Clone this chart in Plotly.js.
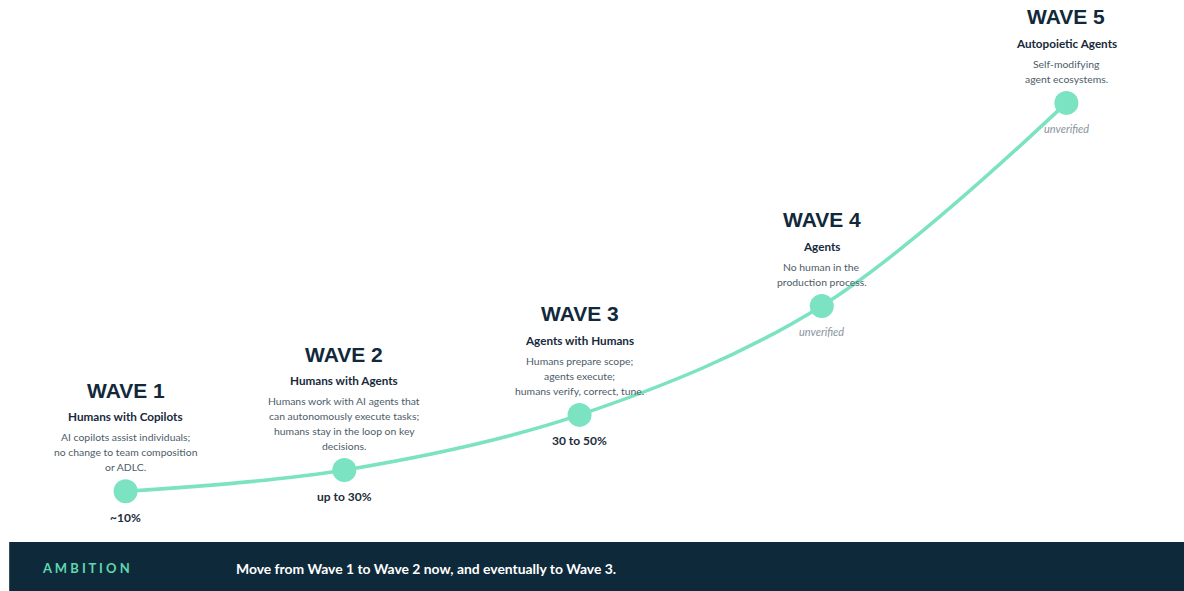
<!DOCTYPE html>
<html>
<head>
<meta charset="utf-8">
<script src="https://cdn.plot.ly/plotly-3.0.1.min.js"></script>
<style>
  html, body { margin: 0; padding: 0; background: #ffffff; }
  #chart { width: 1184px; height: 591px; }
</style>
</head>
<body>
<div id="chart"></div>
<script>
// ---- data ----
const waveNames = ['WAVE 1', 'WAVE 2', 'WAVE 3', 'WAVE 4', 'WAVE 5'];
const waveSubtitles = ['Humans with Copilots', 'Humans with Agents', 'Agents with Humans', 'Agents', 'Autopoietic Agents'];
const waveDescriptions = [
  ['AI copilots assist individuals;', 'no change to team composition', 'or ADLC.'],
  ['Humans work with AI agents that', 'can autonomously execute tasks;', 'humans stay in the loop on key', 'decisions.'],
  ['Humans prepare scope;', 'agents execute;', 'humans verify, correct, tune.'],
  ['No human in the', 'production process.'],
  ['Self-modifying', 'agent ecosystems.']
];
const waveValueLabels = ['~10%', 'up to 30%', '30 to 50%', 'unverified', 'unverified'];
const waveVerified = [true, true, true, false, false];
// position along the journey and level of autonomy
const wavePosition = [1, 1.93, 2.93, 3.96, 5];
const waveAutonomy = [6.0, 10.4, 21.9, 44.6, 86.9];

const ambitionLabel = 'A M B I T I O N';
const ambitionText = 'Move from Wave 1 to Wave 2 now, and eventually to Wave 3.';

// ---- style ----
const teal = '#7be3c1';
const navy = '#0e2a3a';
const bodyFont = 'Lato, "Open Sans", sans-serif';
const titleFont = '"Liberation Sans", Arial, sans-serif';

const annotations = [];
const lineGap = 15;
for (let i = 0; i < waveNames.length; i++) {
  const x = wavePosition[i], y = waveAutonomy[i];
  const lines = waveDescriptions[i];
  const n = lines.length;
  const firstLine = 24 + lineGap * (n - 1);
  lines.forEach((t, k) => {
    annotations.push({
      x: x, y: y, xref: 'x', yref: 'y', showarrow: false,
      text: t, yshift: firstLine - k * lineGap, xanchor: 'center', yanchor: 'middle',
      font: { family: bodyFont, size: 10.4, color: '#4d5c69' }
    });
  });
  annotations.push({
    x: x, y: y, xref: 'x', yref: 'y', showarrow: false,
    text: '<b>' + waveSubtitles[i] + '</b>', yshift: firstLine + 21,
    xanchor: 'center', yanchor: 'middle',
    font: { family: bodyFont, size: 11.7, color: '#17293a' }
  });
  annotations.push({
    x: x, y: y, xref: 'x', yref: 'y', showarrow: false,
    text: '<b>' + waveNames[i] + '</b>', yshift: firstLine + 47,
    xanchor: 'center', yanchor: 'middle',
    font: { family: titleFont, size: 21, color: '#11293a' }
  });
  annotations.push({
    x: x, y: y, xref: 'x', yref: 'y', showarrow: false,
    text: waveVerified[i] ? '<b>' + waveValueLabels[i] + '</b>' : '<i>' + waveValueLabels[i] + '</i>',
    yshift: -26, xanchor: 'center', yanchor: 'middle',
    font: { family: bodyFont, size: waveVerified[i] ? 12 : 11, color: waveVerified[i] ? '#1d2c38' : '#8a949c' }
  });
}

annotations.push({
  x: 0.027, y: -0.1, xref: 'paper', yref: 'paper', showarrow: false,
  text: '<b>' + ambitionLabel + '</b>', xanchor: 'left', yanchor: 'middle',
  font: { family: bodyFont, size: 13, color: '#5fd6ae' }
});
annotations.push({
  x: 0.1925, y: -0.1, xref: 'paper', yref: 'paper', showarrow: false,
  text: '<b>' + ambitionText + '</b>', xanchor: 'left', yanchor: 'middle',
  font: { family: bodyFont, size: 13.9, color: '#ffffff' }
});

const trace = {
  x: wavePosition,
  y: waveAutonomy,
  type: 'scatter',
  mode: 'lines+markers',
  line: { color: teal, width: 3.5, shape: 'spline', smoothing: 1 },
  marker: { color: teal, size: 24 },
  hoverinfo: 'skip',
  cliponaxis: false
};

const layout = {
  width: 1184, height: 591,
  margin: { l: 8, r: 0, t: 40, b: 71 },
  paper_bgcolor: '#ffffff', plot_bgcolor: '#ffffff',
  showlegend: false,
  xaxis: { range: [0.5, 5.5], visible: false, fixedrange: true },
  yaxis: { range: [0, 100], visible: false, fixedrange: true },
  shapes: [{
    type: 'rect', xref: 'paper', yref: 'paper',
    x0: 0.001, x1: 1, y0: -0.0458, y1: -0.15,
    fillcolor: navy, line: { width: 0 }, layer: 'below'
  }],
  annotations: annotations
};

Plotly.newPlot('chart', [trace], layout, { displayModeBar: false, staticPlot: true });
</script>
</body>
</html>
